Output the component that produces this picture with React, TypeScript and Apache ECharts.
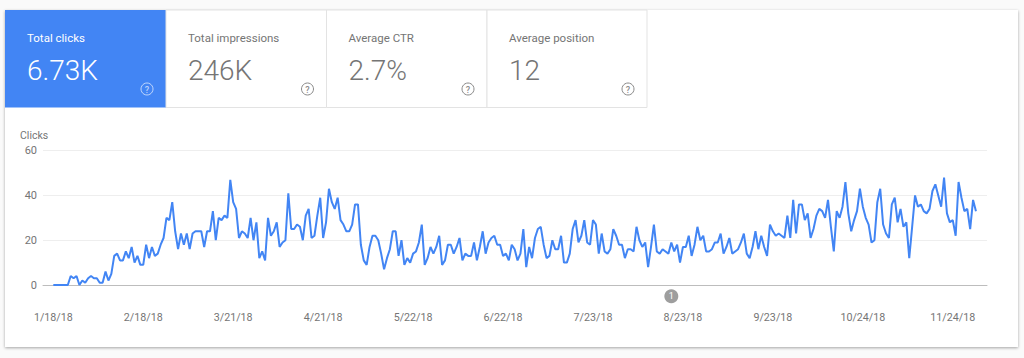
import React, { useEffect, useRef } from "react";
import * as echarts from "echarts";

const clicks = [
  0,0,0,0,0,0,4,3,4,0,2,1,3,4,3,3,1,1,6,2,5,13,14,11,11,15,12,17,10,13,
  9,9,18,12,17,13,14,18,21,30,29,37,24,16,23,18,23,16,23,24,24,24,17,24,24,33,20,30,29,31,
  30,47,37,34,21,24,23,21,30,20,28,12,15,11,30,22,24,28,17,19,20,41,25,25,27,26,20,31,34,21,
  22,31,39,21,28,43,37,34,39,29,27,24,24,27,36,36,18,11,9,17,22,22,20,14,7,12,16,24,24,13,
  20,9,12,10,14,15,19,27,9,12,17,14,17,22,9,11,18,18,14,17,21,11,14,13,13,19,11,17,24,14,
  19,21,22,18,18,13,14,11,18,16,11,14,25,8,17,12,21,25,26,18,12,13,20,16,16,22,10,10,14,25,
  29,19,22,29,19,18,29,27,14,23,15,14,16,25,22,18,18,12,16,16,15,26,20,17,19,8,17,27,15,14,
  16,15,14,19,15,18,10,17,17,22,13,18,26,20,22,15,15,16,19,19,23,14,17,21,14,15,16,19,23,14,
  12,17,24,16,22,17,13,27,24,22,23,22,21,31,21,38,23,36,36,29,32,21,25,31,34,33,30,38,26,15,
  33,30,35,46,32,24,29,33,43,35,30,27,19,20,37,43,27,23,21,36,39,28,34,26,28,12,26,40,35,36,
  33,32,34,42,45,40,35,48,32,28,29,22,46,39,33,34,25,38,33,
];
const xTickLabels = ["1/18/18","2/18/18","3/21/18","4/21/18","5/22/18","6/22/18","7/23/18","8/23/18","9/23/18","10/24/18","11/24/18"];
const xTickStep = 31;
const yTicks = { min: 0, max: 60, step: 20 };
const annotationDay = 213;
const annotationLabel = "1";
const seriesName = "Clicks";
const tabTitles = ["Total clicks","Total impressions","Average CTR","Average position"];
const tabValues = ["6.73K","246K","2.7%","12"];

const FONT = "Roboto, sans-serif";
const BLUE = "#4285f4";
const TAB_X = [5, 166, 326.5, 487, 647];

function tabGraphics() {
  const out: any[] = [];
  out.push({ type: "rect", z: 0, shape: { x: 5, y: 10, width: 1013, height: 337 },
    style: { fill: "#fff", shadowBlur: 3, shadowOffsetY: 1, shadowColor: "rgba(0,0,0,0.35)" } });
  tabTitles.forEach((t, i) => {
    const x0 = TAB_X[i], x1 = TAB_X[i + 1], active = i === 0;
    out.push({ type: "rect", z: 1, shape: { x: x0, y: 10, width: x1 - x0, height: 97.5 },
      style: active ? { fill: BLUE } : { fill: "#fff", stroke: "#e3e3e3", lineWidth: 1 } });
    const tc = active ? "#fff" : "#757575";
    out.push({ type: "text", z: 2, x: x0 + 22, y: 38, style: { text: t, fill: tc, font: `400 11.5px ${FONT}`, textVerticalAlign: "middle" } });
    out.push({ type: "text", z: 2, x: x0 + 22, y: 70, style: { text: tabValues[i], fill: tc, font: `300 28px ${FONT}`, textVerticalAlign: "middle" } });
    const ic = active ? "rgba(255,255,255,0.65)" : "#8a8a8a";
    out.push({ type: "circle", z: 2, shape: { cx: x1 - 19, cy: 89, r: 6 }, style: { fill: "none", stroke: ic, lineWidth: 1 } });
    out.push({ type: "text", z: 2, x: x1 - 19, y: 89.5, style: { text: "?", fill: ic, font: `500 9px ${FONT}`, textAlign: "center", textVerticalAlign: "middle" } });
  });
  out.push({ type: "text", z: 2, x: 20, y: 135, style: { text: seriesName, fill: "#757575", font: `400 10.5px ${FONT}`, textVerticalAlign: "middle" } });
  return out;
}

export default function App() {
  const ref = useRef<HTMLDivElement>(null);
  useEffect(() => {
    document.body.style.margin = "0";
    const chart = echarts.init(ref.current!, null, { renderer: "svg" });
    chart.setOption({
      animation: false,
      backgroundColor: "#fafafa",
      textStyle: { fontFamily: FONT },
      graphic: tabGraphics(),
      grid: { left: 43, right: 37, top: 150.7, bottom: 73, containLabel: false },
      xAxis: {
        type: "value",
        min: -3.55,
        max: 321.8,
        splitLine: { show: false },
        axisTick: { show: false },
        axisLine: { show: true, onZero: true, lineStyle: { color: "#bdbdbd", width: 1 } },
        axisLabel: {
          customValues: xTickLabels.map((_, i) => i * xTickStep),
          formatter: (v: number) => xTickLabels[Math.round(v / xTickStep)],
          color: "#757575",
          fontSize: 10.7,
          margin: 27,
        },
      },
      yAxis: {
        type: "value",
        min: yTicks.min,
        max: yTicks.max,
        interval: yTicks.step,
        axisLine: { show: false },
        axisTick: { show: false },
        splitLine: { lineStyle: { color: "#eeeeee", width: 1 } },
        axisLabel: { color: "#757575", fontSize: 11, margin: 6 },
      },
      series: [
        {
          name: seriesName,
          type: "line",
          data: clicks.map((v, i) => [i, v]),
          showSymbol: false,
          symbol: "none",
          lineStyle: { color: BLUE, width: 2 },
          z: 3,
        },
        {
          type: "scatter",
          clip: false,
          data: [[annotationDay, -5]],
          symbolSize: 14,
          itemStyle: { color: "#9e9e9e", opacity: 1 },
          label: { show: true, position: "inside", formatter: annotationLabel, color: "#fff", fontSize: 9 },
          z: 4,
        },
      ],
    });
    return () => chart.dispose();
  }, []);
  return <div ref={ref} style={{ width: 1024, height: 358 }} />;
}
